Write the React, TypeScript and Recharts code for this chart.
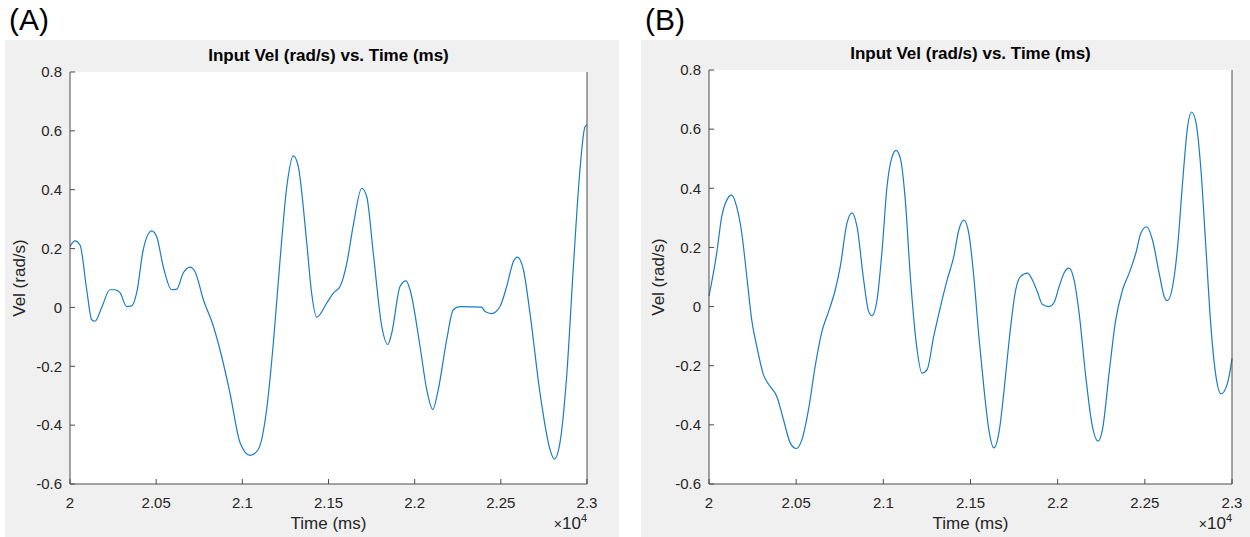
import React from "react";
import {
  LineChart,
  Line,
  XAxis,
  YAxis,
  ReferenceArea,
} from "recharts";

// time in ms, velocity in rad/s
const timeA = [
  20000, 20029, 20058, 20097, 20126, 20145, 20184, 20232, 20261, 20290, 20329, 20358,
  20387, 20425, 20474, 20503, 20541, 20590, 20619, 20657, 20696, 20725, 20774, 20832,
  20870, 20928, 20987, 21045, 21093, 21141, 21180, 21219, 21258, 21296, 21325, 21374,
  21402, 21432, 21490, 21528, 21567, 21606, 21644, 21693, 21722, 21760, 21809, 21844,
  21867, 21915, 21950, 21973, 22031, 22070, 22105, 22137, 22186, 22224, 22263, 22389,
  22408, 22447, 22495, 22534, 22573, 22596, 22631, 22669, 22727, 22785, 22810, 22843,
  22882, 22921, 22959, 22988, 23000,
];
const velA = [
  0.207, 0.226, 0.212, 0.06, -0.042, -0.047, 0.0, 0.06, 0.06, 0.05, 0.003, 0.005,
  0.05, 0.196, 0.26, 0.24, 0.139, 0.06, 0.062, 0.117, 0.137, 0.122, 0.026, -0.064,
  -0.143, -0.29, -0.46, -0.503, -0.482, -0.347, -0.121, 0.162, 0.41, 0.515, 0.478, 0.218,
  0.049, -0.033, 0.015, 0.049, 0.071, 0.15, 0.28, 0.405, 0.376, 0.184, -0.064, -0.126,
  -0.087, 0.071, 0.09, 0.06, -0.132, -0.279, -0.347, -0.279, -0.109, -0.008, 0.003, 0.001,
  -0.014, -0.021, 0.003, 0.071, 0.156, 0.171, 0.128, -0.019, -0.29, -0.482, -0.515, -0.46,
  -0.234, 0.139, 0.467, 0.613, 0.62,
];

const timeB = [
  20000, 20044, 20073, 20102, 20130, 20159, 20188, 20217, 20245, 20274, 20312, 20351,
  20389, 20427, 20466, 20500, 20533, 20571, 20609, 20648, 20686, 20724, 20753, 20791,
  20820, 20849, 20887, 20916, 20935, 20964, 20993, 21021, 21050, 21073, 21098, 21126,
  21155, 21190, 21222, 21251, 21289, 21328, 21366, 21404, 21433, 21462, 21491, 21519,
  21548, 21576, 21605, 21634, 21663, 21691, 21720, 21759, 21787, 21826, 21855, 21883,
  21912, 21950, 21979, 22008, 22036, 22065, 22094, 22123, 22161, 22199, 22232, 22257,
  22295, 22333, 22372, 22410, 22448, 22477, 22510, 22544, 22582, 22615, 22630, 22659,
  22688, 22716, 22745, 22768, 22793, 22822, 22850, 22879, 22908, 22937, 22965, 22994,
  23000,
];
const velB = [
  0.035, 0.18, 0.304, 0.36, 0.377, 0.337, 0.248, 0.101, -0.045, -0.135, -0.23, -0.27,
  -0.304, -0.382, -0.461, -0.48, -0.45, -0.348, -0.202, -0.084, -0.017, 0.056, 0.135, 0.281,
  0.317, 0.27, 0.09, -0.017, -0.031, 0.023, 0.191, 0.405, 0.506, 0.528, 0.5, 0.36,
  0.101, -0.129, -0.225, -0.213, -0.101, 0.0, 0.09, 0.169, 0.259, 0.292, 0.245, 0.101,
  -0.101, -0.27, -0.416, -0.478, -0.427, -0.292, -0.123, 0.056, 0.101, 0.113, 0.09, 0.051,
  0.008, 0.0, 0.013, 0.067, 0.113, 0.13, 0.09, -0.022, -0.236, -0.405, -0.455, -0.416,
  -0.225, -0.045, 0.056, 0.113, 0.18, 0.248, 0.27, 0.225, 0.113, 0.028, 0.02, 0.067,
  0.202, 0.416, 0.607, 0.658, 0.624, 0.461, 0.202, -0.067, -0.236, -0.295, -0.275, -0.2,
  -0.175,
];

const xTicks = [20000, 20500, 21000, 21500, 22000, 22500, 23000];
const yTicks = [-0.6, -0.4, -0.2, 0, 0.2, 0.4, 0.6, 0.8];

const title = "Input Vel (rad/s) vs. Time (ms)";
const xLabel = "Time (ms)";
const yLabel = "Vel (rad/s)";

const FONT = '"Liberation Sans", Arial, Helvetica, sans-serif';
const AXIS = "#4a4a4a";
const TEXT = "#262626";
const GRAY = "#f0f0f0";

const fmtX = (v: number) => String(Number((v / 10000).toFixed(2)));
const fmtY = (v: number) => {
  const s = Number(v.toFixed(1));
  return s === 0 ? "0" : String(s);
};
const blank = () => "";

interface PanelProps {
  tag: string;
  left: number;
  width: number;
  plotLeft: number;
  plotTop: number;
  plotWidth: number;
  plotHeight: number;
  times: number[];
  values: number[];
}

function Panel({ tag, left, width, plotLeft, plotTop, plotWidth, plotHeight, times, values }: PanelProps) {
  const height = 497;
  const data = times.map((t, i) => ({ t, v: values[i] }));
  const rightW = width - plotLeft - plotWidth;
  const bottomH = height - plotTop - plotHeight;
  const tickStyle = { fontSize: 15, fill: TEXT, fontFamily: FONT };
  const cx = left + plotLeft + plotWidth / 2;
  return (
    <>
      <div
        style={{
          position: "absolute",
          left: left + 4,
          top: 2,
          fontSize: 30,
          fontFamily: FONT,
          color: "#000",
          lineHeight: "35px",
        }}
      >
        {tag}
      </div>
      <div style={{ position: "absolute", left, top: 40, width, height, background: GRAY }}>
        <LineChart
          width={width}
          height={height}
          data={data}
          margin={{ top: plotTop, right: 0, bottom: 0, left: 0 }}
        >
          <XAxis
            dataKey="t"
            type="number"
            domain={[20000, 23000]}
            ticks={xTicks}
            tickFormatter={fmtX}
            height={bottomH}
            tickSize={-5}
            tickMargin={18}
            stroke={AXIS}
            tick={tickStyle}
            interval={0}
          />
          <XAxis
            xAxisId="top"
            orientation="top"
            dataKey="t"
            type="number"
            domain={[20000, 23000]}
            ticks={xTicks}
            tickFormatter={blank}
            height={0}
            tickSize={-5}
            stroke={AXIS}
            interval={0}
          />
          <YAxis
            type="number"
            domain={[-0.6, 0.8]}
            ticks={yTicks}
            tickFormatter={fmtY}
            width={plotLeft}
            tickSize={-5}
            tickMargin={13}
            stroke={AXIS}
            tick={tickStyle}
            interval={0}
          />
          <YAxis
            yAxisId="right"
            orientation="right"
            type="number"
            domain={[-0.6, 0.8]}
            ticks={yTicks}
            tickFormatter={blank}
            width={rightW}
            tickSize={-5}
            stroke={AXIS}
            interval={0}
          />
          <ReferenceArea
            x1={20000}
            x2={23000}
            y1={-0.6}
            y2={0.8}
            fill="#ffffff"
            fillOpacity={1}
            stroke="none"
          />
          <Line
            type="monotone"
            dataKey="v"
            stroke="#1a7cc4"
            strokeWidth={1.2}
            dot={false}
            isAnimationActive={false}
          />
        </LineChart>
      </div>
      <div
        style={{
          position: "absolute",
          left: cx - 200,
          width: 400,
          top: 40 + plotTop - 26,
          textAlign: "center",
          fontFamily: FONT,
          fontWeight: "bold",
          fontSize: 17,
          color: "#000",
          lineHeight: "20px",
        }}
      >
        {title}
      </div>
      <div
        style={{
          position: "absolute",
          left: cx - 100,
          width: 200,
          top: 514,
          textAlign: "center",
          fontFamily: FONT,
          fontSize: 17,
          color: TEXT,
          lineHeight: "20px",
        }}
      >
        {xLabel}
      </div>
      <div
        style={{
          position: "absolute",
          left: left + plotLeft + plotWidth - 80,
          width: 80,
          top: 512,
          height: 24,
          textAlign: "right",
          fontFamily: FONT,
          fontSize: 17,
          color: TEXT,
          lineHeight: "24px",
          whiteSpace: "nowrap",
        }}
      >
        <span style={{ fontSize: 14 }}>×</span>10
        <span style={{ fontSize: 11, position: "relative", top: -7 }}>4</span>
      </div>
      <div
        style={{
          position: "absolute",
          left: left + plotLeft - 50 - 100,
          top: 40 + plotTop + plotHeight / 2 - 10,
          width: 200,
          height: 20,
          textAlign: "center",
          transform: "rotate(-90deg)",
          fontFamily: FONT,
          fontSize: 17,
          color: TEXT,
          lineHeight: "20px",
        }}
      >
        {yLabel}
      </div>
    </>
  );
}

export default function App() {
  return (
    <div
      style={{
        position: "absolute",
        left: 0,
        top: 0,
        width: 1250,
        height: 537,
        background: "#ffffff",
        overflow: "hidden",
      }}
    >
      <Panel
        tag="(A)"
        left={5}
        width={614}
        plotLeft={65}
        plotTop={32}
        plotWidth={517}
        plotHeight={412}
        times={timeA}
        values={velA}
      />
      <Panel
        tag="(B)"
        left={641}
        width={609}
        plotLeft={68}
        plotTop={30}
        plotWidth={523}
        plotHeight={414}
        times={timeB}
        values={velB}
      />
    </div>
  );
}
